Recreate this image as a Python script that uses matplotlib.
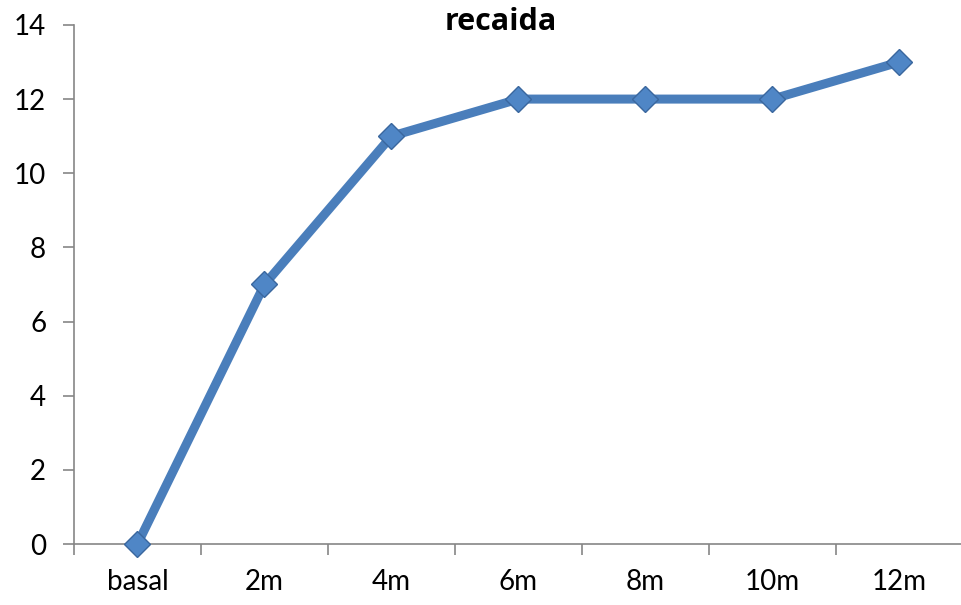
import numpy as np
import matplotlib
matplotlib.use("Agg")
import matplotlib.pyplot as plt

# months since baseline and cumulative relapses
categories = ['basal', '2m', '4m', '6m', '8m', '10m', '12m']
recaida = [0, 7, 11, 12, 12, 12, 13]

plt.rcParams['font.family'] = ['Lato', 'DejaVu Sans']

fig = plt.figure(figsize=(9.61, 6.05), dpi=100)
ax = fig.add_axes([0.077, 0.1008, 0.925, 0.858])

x = np.arange(len(categories))
ax.plot(x, recaida, color='#4A7EBB', linewidth=6.5, solid_capstyle='round',
        marker='D', markersize=13.5, markerfacecolor='#4F86C6',
        markeredgecolor='#3A679E', markeredgewidth=1.0, zorder=3,
        clip_on=False)

ax.set_xlim(-0.5, len(categories) - 0.5)
ax.set_ylim(0, 14)
ax.set_yticks(range(0, 15, 2))

# category boundaries get the tick marks, labels sit at the centres
ax.set_xticks(np.arange(len(categories) + 1) - 0.5)
ax.set_xticklabels([])
ax.set_xticks(x, minor=True)
ax.set_xticklabels(categories, minor=True)
ax.tick_params(axis='x', which='major', length=8, width=1.2, color='#868686', direction='out')
ax.tick_params(axis='x', which='minor', length=0, pad=18, labelsize=20)
ax.tick_params(axis='y', length=8, width=1.2, color='#868686', pad=12, labelsize=20)

for side in ['top', 'right']:
    ax.spines[side].set_visible(False)
for side in ['left', 'bottom']:
    ax.spines[side].set_color('#868686')
    ax.spines[side].set_linewidth(1.2)

fig.text(0.521, 0.9636, 'recaida', fontsize=22, fontweight='bold',
         family=['Open Sans', 'DejaVu Sans'], ha='center', va='center')

fig.savefig('out.png', dpi=100)
